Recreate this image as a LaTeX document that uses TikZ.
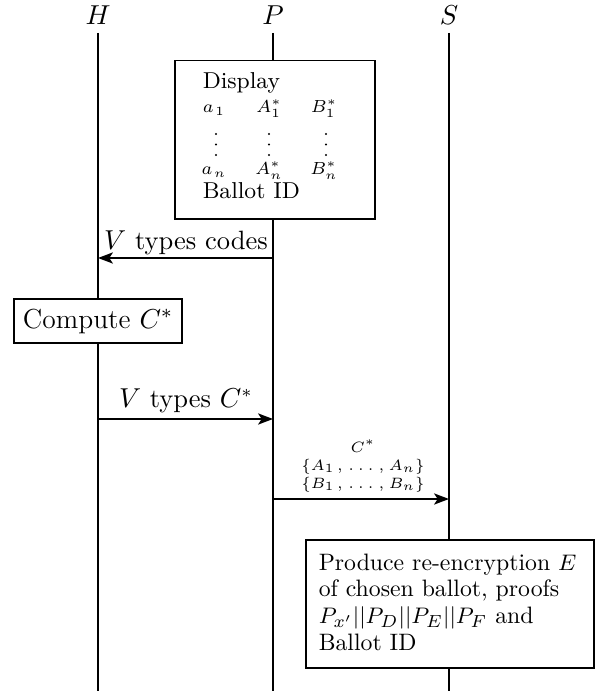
\documentclass[tikz,border=0pt]{standalone}
\usetikzlibrary{arrows.meta}
\newcommand\mywdots{\mathinner{.\kern1.6pt.\kern1.6pt.}}
\begin{document}
\begin{tikzpicture}[x=0.4pt,y=-0.4pt,line width=0.6pt,
  lbl/.style={font=\fontsize{10.6}{13}\selectfont,inner sep=0pt},
  msg/.style={-{Stealth[length=6pt,width=4.5pt,inset=1.5pt]}},
  box/.style={draw,fill=white,inner sep=0pt},
  ent/.style={font=\fontsize{7}{8}\selectfont,inner sep=0pt,anchor=base},
  small/.style={font=\fontsize{6.5}{8}\selectfont,inner sep=0pt,anchor=base},
  vdot/.style={circle,fill,inner sep=0pt,minimum size=0.85pt}]
\useasboundingbox (0,0) rectangle (597,691);
% actors
\node[lbl] (H) at (98,15) {$H$};
\node[lbl] (P) at (273,15) {$P$};
\node[lbl] (S) at (449,15) {$S$};
\coordinate (Ht) at (98,33);  \coordinate (Hb) at (98,691);
\coordinate (Pt) at (273,33); \coordinate (Pb) at (273,691);
\coordinate (St) at (449,33); \coordinate (Sb) at (449,691);
\draw (Ht) -- (Hb);
\draw (Pt) -- (Pb);
\draw (St) -- (Sb);
% display box
\node[box,anchor=north west,minimum width=80pt,minimum height=63.2pt] (disp) at (174,60) {};
\node[font=\fontsize{9.2}{11}\selectfont,inner sep=0pt,anchor=base west] (dlab) at (202,89) {Display};
\node[ent] (e11) at (214,113) {$a_{\kern0.6pt1}$};
\node[ent] (e12) at (269,113) {$A_1^*$};
\node[ent] (e13) at (324,113) {$B_1^*$};
\foreach \dx/\c in {216/a,269/b,326/c}{
  \node[vdot] (d1\c) at (\dx,134) {};
  \node[vdot] (d2\c) at (\dx,144.5) {};
  \node[vdot] (d3\c) at (\dx,155) {};
}
\node[ent] (e21) at (214,175) {$a_{\kern0.6pt n}$};
\node[ent] (e22) at (269,175) {$A_n^*$};
\node[ent] (e23) at (324,175) {$B_n^*$};
\node[font=\fontsize{9.2}{11}\selectfont,inner sep=0pt,anchor=base west] (bid) at (202,199) {Ballot ID};
% message 1
\coordinate (m1s) at (273,258); \coordinate (m1e) at (98,258);
\draw[msg] (m1s) -- (m1e);
\node[lbl,anchor=base] (l1) at (186,250) {$V$ types codes};
% compute box
\node[box,font=\fontsize{11}{13}\selectfont,minimum width=67.2pt,minimum height=17.6pt] (comp) at (98,321) {Compute $C^*$};
% message 2
\coordinate (m2s) at (98,419); \coordinate (m2e) at (273,419);
\draw[msg] (m2s) -- (m2e);
\node[lbl,anchor=base] (l2) at (186,407) {$V$ types $C^*$};
% message 3
\coordinate (m3s) at (273,499); \coordinate (m3e) at (449,499);
\draw[msg] (m3s) -- (m3e);
\node[small] (l3a) at (363,452) {$C^*$};
\node[small] (l3b) at (363,470) {$\{A_1\kern1pt,\kern1pt\mywdots\kern0.8pt,\kern0.5pt A_n\}$};
\node[small] (l3c) at (363,488) {$\{B_1\kern1pt,\kern1pt\mywdots\kern0.8pt,\kern0.5pt B_n\}$};
% produce box
\node[box,anchor=north west,minimum width=115.2pt,minimum height=51.2pt] (prod) at (305,539) {};
\node[font=\fontsize{9.5}{10.7}\selectfont,inner sep=0pt,anchor=north west,align=left] (ptext) at (318,553)
  {Produce re-encryption $E$\\of chosen ballot, proofs\\$P_{x'}||P_D||P_E||P_F$ and\\Ballot ID};
\end{tikzpicture}
\end{document}
